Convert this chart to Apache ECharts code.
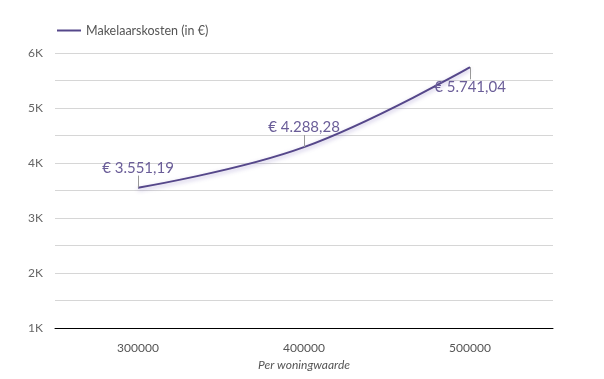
<!DOCTYPE html>
<html>
<head>
<meta charset="utf-8">
<script src="https://cdn.jsdelivr.net/npm/echarts@6/dist/echarts.min.js"></script>
<style>html,body{margin:0;padding:0;background:#fff}#c{width:604px;height:379px}</style>
</head>
<body>
<div id="c"></div>
<script>
var categories = ['300000', '400000', '500000'];
var values = [3551.19, 4288.28, 5741.04];
var labelSides = ['top', 'top', 'bottom'];
var seriesName = 'Makelaarskosten (in €)';
var xAxisName = 'Per woningwaarde';

function fmt(v) {
  var p = v.toFixed(2).split('.');
  p[0] = p[0].replace(/\B(?=(\d{3})+(?!\d))/g, '.');
  return '€ ' + p[0] + ',' + p[1];
}

var TICK = 220; // leader tick length in data units
var seriesData = values.map(function (v, i) {
  return { value: v, label: { position: labelSides[i] } };
});
var tickLines = values.map(function (v, i) {
  var d = labelSides[i] === 'top' ? TICK : -TICK;
  return [{ coord: [i, v] }, { coord: [i, v + d] }];
});

var chart = echarts.init(document.getElementById('c'));
chart.setOption({
  animation: false,
  textStyle: { fontFamily: 'Lato' },
  legend: {
    left: 52, top: 19, itemWidth: 24, itemHeight: 10, itemGap: 10,
    icon: 'path://M0,4L24,4L24,6L0,6Z',
    textStyle: { color: '#555', fontSize: 12.5, fontFamily: 'Lato' },
    data: [seriesName]
  },
  grid: { left: 55, right: 51, top: 53, bottom: 51 },
  xAxis: {
    type: 'category', data: categories, boundaryGap: true,
    name: xAxisName, nameLocation: 'middle', nameGap: 30,
    nameTextStyle: { fontStyle: 'italic', color: '#555', fontSize: 12 },
    axisLine: { lineStyle: { color: '#000', width: 1 } },
    axisTick: { show: false },
    axisLabel: { color: '#555', fontSize: 12, margin: 14 }
  },
  yAxis: {
    type: 'value', min: 1000, max: 6000, interval: 500,
    axisLine: { show: false }, axisTick: { show: false },
    splitLine: { lineStyle: { color: '#d6d6d6' } },
    axisLabel: {
      color: '#666', fontSize: 12, margin: 12,
      formatter: function (v) { return v % 1000 === 0 ? (v / 1000) + 'K' : ''; }
    }
  },
  series: [{
    name: seriesName, type: 'line', smooth: 0.4,
    data: seriesData, symbol: 'circle', symbolSize: 0, showSymbol: true,
    lineStyle: { color: '#55478a', width: 2, shadowColor: 'rgba(110,90,180,0.45)', shadowBlur: 4, shadowOffsetY: 2 },
    itemStyle: { color: '#55478a' },
    label: {
      show: true, position: 'top', distance: 12, color: '#6a5d98', fontSize: 15,
      formatter: function (p) { return fmt(p.value); }
    },
    markLine: {
      silent: true, symbol: 'none', animation: false,
      label: { show: false },
      lineStyle: { color: '#999', width: 1, type: 'solid' },
      emphasis: { disabled: true },
      data: tickLines
    }
  }]
});
</script>
</body>
</html>
